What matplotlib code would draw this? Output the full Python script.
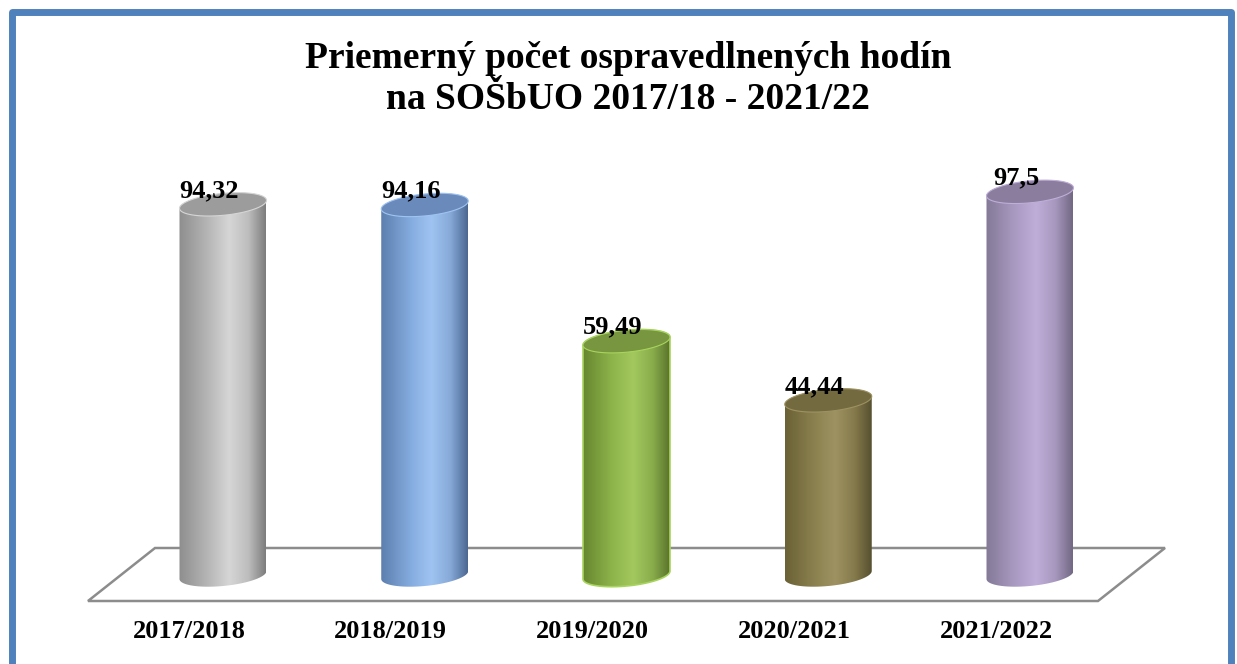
import matplotlib.pyplot as plt
import numpy as np
from matplotlib.colors import LinearSegmentedColormap
from matplotlib.patches import Polygon, Rectangle

# data
years = ["2017/2018", "2018/2019", "2019/2020", "2020/2021", "2021/2022"]
values = [94.32, 94.16, 59.49, 44.44, 97.5]
labels = ["94,32", "94,16", "59,49", "44,44", "97,5"]

# cylinder shading: left edge, highlight, right edge, top cap
shades = [
    ["#8e8e8e", "#b8b8b8", "#d6d6d6", "#bdbdbd", "#7d7d7d", "#9c9c9c"],
    ["#5c7fae", "#86ade0", "#9fc4f2", "#86a9d8", "#4b6891", "#6a8abb"],
    ["#67862f", "#8fb64c", "#a2c85e", "#8aad4c", "#5a742c", "#78963f"],
    ["#6a6136", "#8c8250", "#9e9262", "#857a4b", "#565030", "#746a40"],
    ["#847997", "#ab9cc4", "#bfaed8", "#a797be", "#736883", "#8a7d9d"],
]
edge_cols = [None, None, "#a8d45e", None, None]

W, H = 1237, 664
fig = plt.figure(figsize=(W / 100, H / 100), dpi=100)
ax = fig.add_axes([0, 0, 1, 1])

# pixel geometry of the original layout
step, c0 = 201.75, 223.0      # px between bars, px of first bar centre
base, unit = 575.0, 3.93       # px of value 0, px per value unit
ax.set_xlim(-c0 / step, (W - c0) / step)
ax.set_ylim((base - H) / unit, base / unit)
ax.axis("off")


def px(x, y):
    return ((x - c0) / step, (base - y) / unit)


# floor
floor = [px(155, 548), px(1165, 548), px(1098, 601), px(88, 601)]
ax.add_patch(Polygon(floor, closed=True, fill=False, edgecolor="#8c8c8c",
                     lw=1.8, zorder=1))

w = 43.5 / step     # half width in x units
b = 11.0 / unit     # ellipse half height
k = 4.0 / unit      # tilt of the ellipse
t = np.linspace(0, np.pi, 60)

for i, (v, sh) in enumerate(zip(values, shades)):
    # body outline: bottom front arc, right side, top back arc, left side
    bx = i + w * np.cos(t + np.pi)
    by = b * np.sin(t + np.pi) + k * np.cos(t + np.pi)
    tx = i + w * np.cos(t)
    ty = v + b * np.sin(t) + k * np.cos(t)
    body = np.column_stack([np.r_[bx, tx], np.r_[by, ty]])
    patch = Polygon(body, closed=True, facecolor="none",
                    edgecolor=edge_cols[i] or "none", lw=1.2, zorder=3)
    ax.add_patch(patch)
    cmap = LinearSegmentedColormap.from_list(
        "c%d" % i, list(zip([0, 0.35, 0.58, 0.8, 1.0], sh[:5])))
    grad = np.linspace(0, 1, 256).reshape(1, -1)
    im = ax.imshow(grad, cmap=cmap, aspect="auto", interpolation="bicubic",
                   extent=[i - w, i + w, -b - k - 1, v + b + k + 1], zorder=2)
    im.set_clip_path(patch)

    # top cap
    ta = np.linspace(0, 2 * np.pi, 120)
    cap = np.column_stack([i + w * np.cos(ta),
                           v + b * np.sin(ta) + k * np.cos(ta)])
    ax.add_patch(Polygon(cap, closed=True, facecolor=sh[5],
                         edgecolor=edge_cols[i] or sh[2], lw=0.8, zorder=4))

    ax.text(i - 14 / step, v + 14 / unit, labels[i], ha="center", va="center",
            fontsize=19, fontweight="bold", family="Liberation Serif", zorder=5)
    ax.text(i - 34 / step, (base - 632) / unit, years[i], ha="center",
            va="center", fontsize=19, fontweight="bold",
            family="Liberation Serif")

fig.text(628 / W, 1 - 79 / H,
         "Priemerný počet ospravedlnených hodín\nna SOŠbUO 2017/18 - 2021/22",
         ha="center", va="center", fontsize=27, fontweight="bold",
         family="Liberation Serif", linespacing=1.25)

# outer frame
fig.patches.append(Rectangle((12 / W, -0.02), (1231 - 12) / W, 1.02 - 12 / H,
                             transform=fig.transFigure, fill=False,
                             edgecolor="#4f81bd", lw=5, joinstyle="round"))

fig.savefig("out.png", dpi=100)
